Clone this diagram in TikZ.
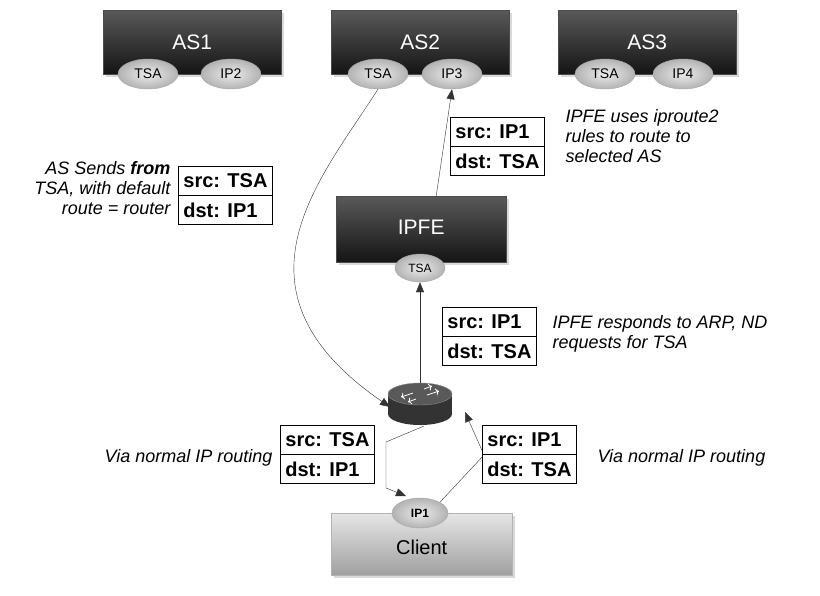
\documentclass[tikz,border=0pt]{standalone}
\usepackage{fontspec}
\setmainfont{Liberation Sans}
\usetikzlibrary{shapes.geometric,shadows,arrows.meta}
\begin{document}
\begin{tikzpicture}[x=1pt,y=-1pt,
 dark/.style={draw=gray!60!black,top color=black!65,bottom color=black!92,minimum width=178pt,minimum height=64pt,text=white,font=\fontsize{21}{21}\selectfont,drop shadow={opacity=0.3}},
 port/.style={ellipse,draw=gray!70,inner color=gray!15,outer color=gray!60,minimum width=60pt,minimum height=30pt,font=\fontsize{14}{14}\selectfont},
 pkt/.style={draw,fill=white,thick,align=left,font=\bfseries\fontsize{20}{20}\selectfont,inner xsep=5pt,inner ysep=7pt},
 note/.style={font=\itshape\fontsize{18}{20}\selectfont,align=left},
 arr/.style={-{Triangle[length=10pt,width=8pt]},gray!40!black}]
\useasboundingbox (0,0) rectangle (820,595);
\node[dark,anchor=north west,text depth=4pt,text height=18pt] (as1) at (103,10) {AS1};
\node[dark,anchor=north west,text depth=4pt,text height=18pt] (as2) at (331,10) {AS2};
\node[dark,anchor=north west,text depth=4pt,text height=18pt] (as3) at (558,10) {AS3};
\node[port] (t1) at (148,74) {TSA};
\node[port] (ip2) at (231,74) {IP2};
\node[port] (t2) at (378,74) {TSA};
\node[port] (ip3) at (452,74) {IP3};
\node[port] (t3) at (605,74) {TSA};
\node[port] (ip4) at (683,74) {IP4};
\node[dark,anchor=north west,minimum width=170pt,minimum height=66pt,text depth=8pt,text height=18pt] (ipfe) at (336,196) {IPFE};
\node[port,minimum width=50pt,minimum height=28pt,font=\fontsize{12}{12}\selectfont] (tf) at (420,268) {TSA};
\node[draw=gray!60,top color=gray!20,bottom color=gray!75,minimum width=181pt,minimum height=62pt,drop shadow={opacity=0.3},anchor=north west,font=\fontsize{20}{20}\selectfont,text depth=6pt,text height=26pt] (cl) at (331,513) {Client};
\node[port,minimum width=56pt,minimum height=30pt,font=\bfseries\fontsize{12}{12}\selectfont] (ip1) at (420,513) {IP1};
% router
\fill[gray!40!black] (388,394) rectangle (452,414);
\fill[gray!40!black] (420,414) ellipse[x radius=32,y radius=11];
\draw[gray!90,fill=gray!70!black] (420,394) ellipse[x radius=32,y radius=11];
\draw[white,thick,->] (413,393)--(401,397);
\draw[white,thick,->] (427,395)--(439,391);
\draw[white,thick,->] (416,399)--(408,402);
\draw[white,thick,->] (424,389)--(432,386);
\coordinate (rt) at (420,383);
\coordinate (rl) at (390,407);
\coordinate (rr) at (465,412);
\coordinate (rb) at (424,426);
% connectors
\draw[arr] (t2.south) .. controls (320,180) and (220,290) .. (rl);
\draw[arr] (ipfe.north) ++(15,0) coordinate (ipt) -- (ip3.south);
\draw[arr] (rt) -- (tf.south);
\draw[arr] (rb) -- (386,442) -- (386,488) -- (406,496);
\draw[arr] (ip1.north east) -- (484,455) -- (rr);
% packets
\node[pkt,anchor=north west] (p1) at (178,166) {src: TSA\\[10pt]dst: IP1};
\draw[thick] (p1.west) -- (p1.east);
\node[pkt,anchor=north west] (p2) at (450,117) {src: IP1\\[10pt]dst: TSA};
\draw[thick] (p2.west) -- (p2.east);
\node[pkt,anchor=north west] (p3) at (442,307) {src: IP1\\[10pt]dst: TSA};
\draw[thick] (p3.west) -- (p3.east);
\node[pkt,anchor=north west] (p4) at (280,425) {src: TSA\\[10pt]dst: IP1};
\draw[thick] (p4.west) -- (p4.east);
\node[pkt,anchor=north west] (p5) at (482,425) {src: IP1\\[10pt]dst: TSA};
\draw[thick] (p5.west) -- (p5.east);
% notes
\node[note,align=right,anchor=north east] (n1) at (174,158) {AS Sends \textbf{from}\\TSA, with default\\route = router};
\node[note,anchor=north west] (n2) at (562,106) {IPFE uses iproute2\\rules to route to\\selected AS};
\node[note,anchor=north west] (n3) at (549,312) {IPFE responds to ARP, ND\\requests for TSA};
\node[note,anchor=east] (n4) at (276,458) {Via normal IP routing};
\node[note,anchor=west] (n5) at (594,458) {Via normal IP routing};
\end{tikzpicture}
\end{document}
